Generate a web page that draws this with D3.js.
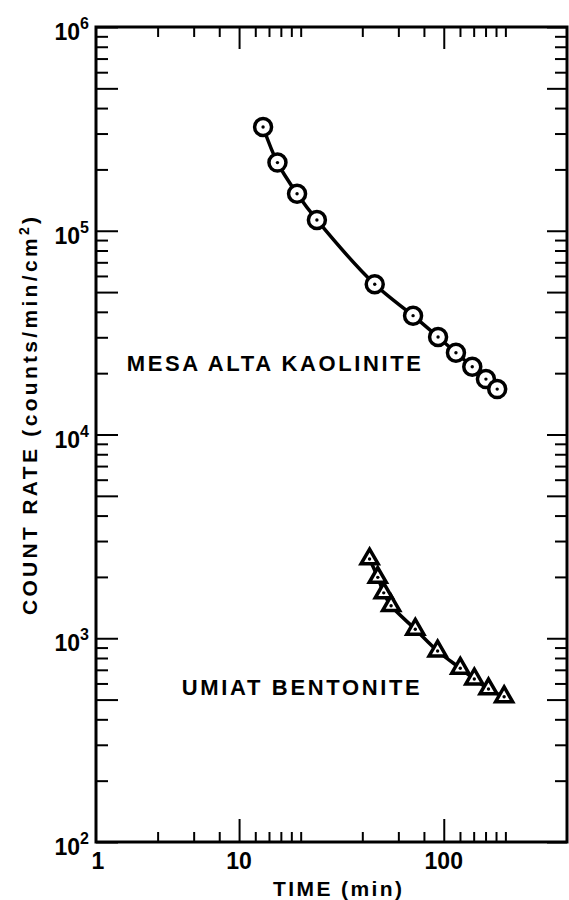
<!DOCTYPE html>
<html>
<head>
<meta charset="utf-8">
<script src="https://cdn.jsdelivr.net/npm/d3@7"></script>
<style>
  body { margin: 0; background: #fff; }
  svg { display: block; }
  text { font-family: "Liberation Sans", Arial, Helvetica, sans-serif; font-weight: bold; fill: #000; }
</style>
</head>
<body>
<script>
// values (time in min, count rate in counts/min/cm2)
const kaoliniteTime = [13.1, 15.4, 19.2, 24.0, 46.0, 70.8, 93.8, 114.7, 137.8, 160.7, 182.4];
const kaoliniteRate = [3.23e5, 2.16e5, 1.52e5, 1.13e5, 5.46e4, 3.83e4, 3.01e4, 2.52e4, 2.15e4, 1.87e4, 1.67e4];
const bentoniteTime = [43.4, 47.6, 50.9, 55.3, 72.6, 93.3, 120.4, 141, 165.4, 197.2];
const bentoniteRate = [2450, 1990, 1670, 1445, 1107, 866, 712, 631, 564, 516];

// axis extents and ticks (left edge of the plot is labelled "1" in the original)
const xDomain = [2, 400];
const yDomain = [1e2, 1e6];
const xMajorTicks = [10, 100];
const xMinorTicks = [4, 6, 8, 12, 14, 16, 18, 20, 40, 60, 80, 120, 140, 160, 180, 200];
const xLabelValues = [2, 10, 100];
const xLabelTexts = ["1", "10", "100"];
const yLabelExponents = [2, 3, 4, 5, 6];

const seriesLabels = [
  { text: "MESA ALTA KAOLINITE", time: 2.83, rate: 2.05e4, len: 294 },
  { text: "UMIAT BENTONITE", time: 5.25, rate: 527, len: 238 },
];

const W = 569, H = 900;
const L = 96, R = 567, T = 27, B = 842;

const svg = d3.select("body").append("svg").attr("width", W).attr("height", H);

const x = d3.scaleLog().domain(xDomain).range([L, R]);
const y = d3.scaleLog().domain(yDomain).range([B, T]);

const yTicks = y.ticks();
const mantissa = (v) => Math.round(v / Math.pow(10, Math.floor(Math.log10(v) + 1e-9)));
const isLong = (v) => mantissa(v) === 1 || mantissa(v) === 5;
const yLong = yTicks.filter(isLong);
const yShort = yTicks.filter((v) => !isLong(v));

const noDomain = (g) => g.select(".domain").remove();
const axes = svg.append("g").attr("stroke-width", 2);

// bottom + top ticks, pointing inward
axes.append("g").attr("transform", `translate(0,${B})`)
  .call(d3.axisBottom(x).tickValues(xMinorTicks).tickSize(-10).tickFormat("")).call(noDomain);
axes.append("g").attr("transform", `translate(0,${B})`)
  .call(d3.axisBottom(x).tickValues(xMajorTicks).tickSize(-23).tickFormat("")).call(noDomain);
axes.append("g").attr("transform", `translate(0,${T})`)
  .call(d3.axisTop(x).tickValues(xMinorTicks).tickSize(-10).tickFormat("")).call(noDomain);
axes.append("g").attr("transform", `translate(0,${T})`)
  .call(d3.axisTop(x).tickValues(xMajorTicks).tickSize(-22).tickFormat("")).call(noDomain);

// left + right ticks
axes.append("g").attr("transform", `translate(${L},0)`)
  .call(d3.axisLeft(y).tickValues(yShort).tickSize(-12).tickFormat("")).call(noDomain);
axes.append("g").attr("transform", `translate(${L},0)`)
  .call(d3.axisLeft(y).tickValues(yLong).tickSize(-22).tickFormat("")).call(noDomain);
axes.append("g").attr("transform", `translate(${R},0)`)
  .call(d3.axisRight(y).tickValues(yShort).tickSize(-12).tickFormat("")).call(noDomain);
axes.append("g").attr("transform", `translate(${R},0)`)
  .call(d3.axisRight(y).tickValues(yLong).tickSize(-20).tickFormat("")).call(noDomain);

// frame
svg.append("rect")
  .attr("x", L).attr("y", T).attr("width", R - L).attr("height", B - T)
  .attr("fill", "none").attr("stroke", "#000").attr("stroke-width", 3);

// x tick labels
svg.append("g").selectAll("text")
  .data(xLabelValues)
  .join("text")
  .attr("x", (d) => x(d) + (d === xDomain[0] ? 2 : 0))
  .attr("y", 869)
  .attr("text-anchor", "middle")
  .attr("font-size", 23)
  .text((d, i) => xLabelTexts[i]);

// y tick labels as 10^n
const yLab = svg.append("g").selectAll("text")
  .data(yLabelExponents)
  .join("text")
  .attr("x", 89)
  .attr("y", (d) => y(Math.pow(10, d)) + 13)
  .attr("text-anchor", "end")
  .attr("font-size", 23);
yLab.append("tspan").text("10");
yLab.append("tspan").attr("dy", -11).attr("font-size", 16).text((d) => d);

// axis titles
svg.append("text")
  .attr("x", (L + R) / 2 + 6)
  .attr("y", 896)
  .attr("text-anchor", "middle")
  .attr("font-size", 21)
  .attr("textLength", 129)
  .attr("lengthAdjust", "spacing")
  .text("TIME (min)");

const yTitle = svg.append("text")
  .attr("transform", "translate(37,416) rotate(-90)")
  .attr("text-anchor", "middle")
  .attr("font-size", 21)
  .attr("textLength", 398)
  .attr("lengthAdjust", "spacing");
yTitle.append("tspan").text("COUNT RATE (counts/min/cm");
yTitle.append("tspan").attr("dy", -8).attr("font-size", 14).text("2");
yTitle.append("tspan").attr("dy", 8).text(")");

// series curves
const line = d3.line()
  .x((d) => x(d[0]))
  .y((d) => y(d[1]))
  .curve(d3.curveCatmullRom.alpha(0.5));

const kaolinite = d3.zip(kaoliniteTime, kaoliniteRate);
const bentonite = d3.zip(bentoniteTime, bentoniteRate);

svg.append("path").datum(kaolinite)
  .attr("d", line).attr("fill", "none").attr("stroke", "#000").attr("stroke-width", 3.5);
svg.append("path").datum(bentonite)
  .attr("d", line).attr("fill", "none").attr("stroke", "#000").attr("stroke-width", 3.5);

// circle markers with centre dot
const kg = svg.append("g").selectAll("g")
  .data(kaolinite)
  .join("g")
  .attr("transform", (d) => `translate(${x(d[0])},${y(d[1])})`);
kg.append("circle").attr("r", 8.5).attr("fill", "#fff").attr("stroke", "#000").attr("stroke-width", 3.5);
kg.append("circle").attr("r", 1.7).attr("fill", "#000");

// triangle markers with centre dot
const s = 17;
const tri = `M0,${-s / Math.sqrt(3)}L${s / 2},${s / (2 * Math.sqrt(3))}L${-s / 2},${s / (2 * Math.sqrt(3))}Z`;
const bg = svg.append("g").selectAll("g")
  .data(bentonite)
  .join("g")
  .attr("transform", (d) => `translate(${x(d[0])},${y(d[1])})`);
bg.append("path").attr("d", tri).attr("fill", "#fff").attr("stroke", "#000")
  .attr("stroke-width", 3.5).attr("stroke-linejoin", "miter");
bg.append("circle").attr("r", 1.7).attr("fill", "#000");

// series labels
svg.append("g").selectAll("text")
  .data(seriesLabels)
  .join("text")
  .attr("x", (d) => x(d.time))
  .attr("y", (d) => y(d.rate))
  .attr("font-size", 22)
  .attr("textLength", (d) => d.len)
  .attr("lengthAdjust", "spacing")
  .text((d) => d.text);
</script>
</body>
</html>
